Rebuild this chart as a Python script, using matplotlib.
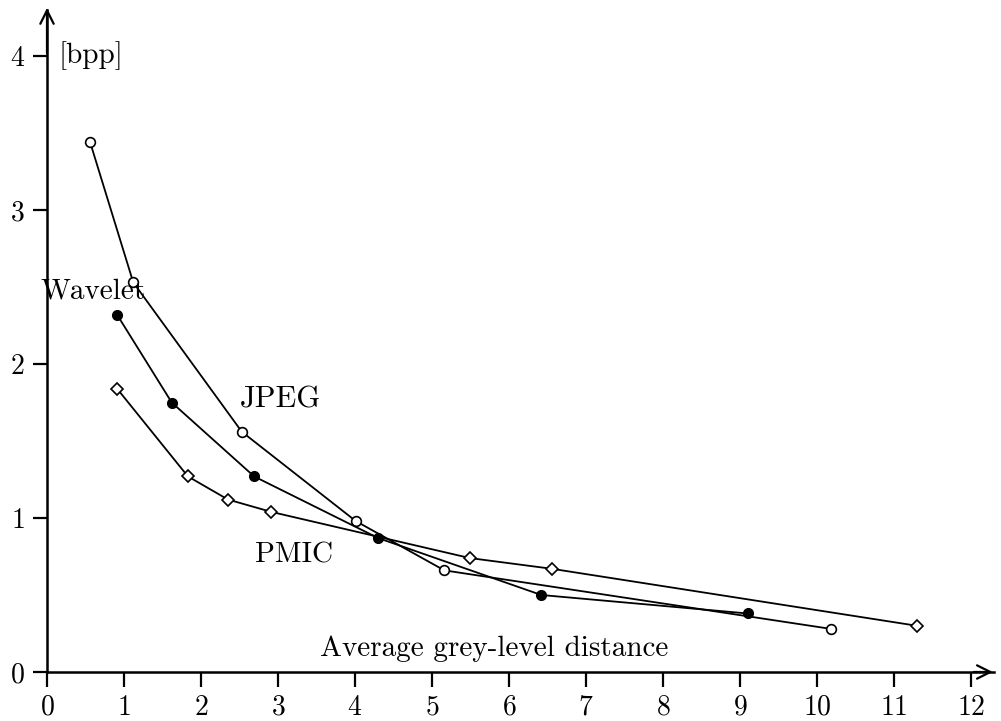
import matplotlib
matplotlib.use("Agg")
import matplotlib.pyplot as plt

jpeg_x = [0.56, 1.12, 2.53, 4.01, 5.16, 10.18]
jpeg_y = [3.44, 2.53, 1.56, 0.98, 0.66, 0.28]

wavelet_x = [0.91, 1.62, 2.69, 4.30, 6.42, 9.10]
wavelet_y = [2.32, 1.75, 1.27, 0.87, 0.50, 0.38]

pmic_x = [0.91, 1.83, 2.35, 2.91, 5.49, 6.56, 11.30]
pmic_y = [1.84, 1.27, 1.12, 1.04, 0.74, 0.67, 0.30]

xticks = list(range(0, 13))
yticks = [0, 1, 2, 3, 4]

plt.rcParams['font.family'] = ['cmr10', 'DejaVu Serif']
plt.rcParams['axes.formatter.use_mathtext'] = True

fig = plt.figure(figsize=(10.01, 7.21), dpi=100)
ax = fig.add_axes([47/1001, 49/721, 12.3*77/1001, 4.3*154/721])
ax.set_xlim(0, 12.3)
ax.set_ylim(0, 4.3)

lw = 1.3
ax.plot(jpeg_x, jpeg_y, color='black', lw=lw, marker='o', ms=7,
        mfc='white', mec='black', mew=1.2, zorder=3)
ax.plot(wavelet_x, wavelet_y, color='black', lw=lw, marker='o', ms=7,
        mfc='black', mec='black', zorder=3)
ax.plot(pmic_x, pmic_y, color='black', lw=lw, marker='D', ms=6.5,
        mfc='white', mec='black', mew=1.2, zorder=3)

for s in ['top', 'right']:
    ax.spines[s].set_visible(False)
for s in ['left', 'bottom']:
    ax.spines[s].set_linewidth(1.8)

ax.set_xticks(xticks)
ax.set_yticks(yticks)
ax.tick_params(axis='x', direction='out', length=11, width=1.6,
               labelsize=20, pad=5)
ax.tick_params(axis='y', direction='out', length=10, width=1.6,
               labelsize=20, pad=6)

# arrowheads
ax.annotate('', xy=(12.32, 0), xytext=(12.0, 0), xycoords='data',
            arrowprops=dict(arrowstyle='->', lw=1.6, color='black',
                            mutation_scale=24), annotation_clip=False)
ax.annotate('', xy=(0, 4.33), xytext=(0, 4.0), xycoords='data',
            arrowprops=dict(arrowstyle='->', lw=1.6, color='black',
                            mutation_scale=24), annotation_clip=False)

fs = 21
ax.text(0.15, 4.0, '[bpp]', fontsize=fs, va='center', ha='left')
ax.text(-0.09, 2.47, 'Wavelet', fontsize=fs, va='center', ha='left')
ax.text(2.51, 1.77, 'JPEG', fontsize=22, va='center', ha='left')
ax.text(2.70, 0.76, 'PMIC', fontsize=fs, va='center', ha='left')
ax.text(3.55, 0.15, 'Average grey-level distance', fontsize=fs,
        va='center', ha='left')

fig.savefig('out.png', dpi=100)
